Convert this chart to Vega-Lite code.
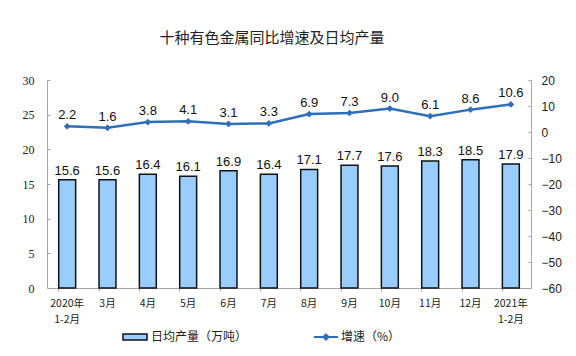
{
  "$schema": "https://vega.github.io/schema/vega-lite/v6.json",
  "autosize": "none",
  "width": 484,
  "height": 208,
  "padding": {"left": 47, "top": 80, "right": 45, "bottom": 68},
  "background": "white",
  "title": {
    "text": "十种有色金属同比增速及日均产量",
    "font": "Noto Sans CJK SC",
    "fontSize": 15,
    "fontWeight": "normal",
    "color": "#222",
    "anchor": "middle",
    "dx": -17,
    "offset": 28
  },
  "config": {
    "view": {"stroke": null},
    "legend": {"padding": 0}
  },
  "data": {
    "values": [
      {"month": "2020年|1-2月", "output": 15.6, "growth": 2.2},
      {"month": "3月", "output": 15.6, "growth": 1.6},
      {"month": "4月", "output": 16.4, "growth": 3.8},
      {"month": "5月", "output": 16.1, "growth": 4.1},
      {"month": "6月", "output": 16.9, "growth": 3.1},
      {"month": "7月", "output": 16.4, "growth": 3.3},
      {"month": "8月", "output": 17.1, "growth": 6.9},
      {"month": "9月", "output": 17.7, "growth": 7.3},
      {"month": "10月", "output": 17.6, "growth": 9.0},
      {"month": "11月", "output": 18.3, "growth": 6.1},
      {"month": "12月", "output": 18.5, "growth": 8.6},
      {"month": "2021年|1-2月", "output": 17.9, "growth": 10.6}
    ]
  },
  "encoding": {
    "x": {
      "field": "month",
      "type": "nominal",
      "sort": null,
      "scale": {"paddingInner": 0.58, "paddingOuter": 0.29},
      "axis": {
        "title": null,
        "labelAngle": 0,
        "labelExpr": "split(datum.label, '|')",
        "labelFont": "Noto Sans CJK SC",
        "labelFontSize": 10.5,
        "labelColor": "#222",
        "labelLineHeight": 16,
        "labelPadding": 7,
        "labelOverlap": false,
        "domainColor": "#A6A6A6",
        "tickColor": "#A6A6A6",
        "tickSize": 3,
        "bandPosition": 0
      }
    }
  },
  "layer": [
    {
      "encoding": {
        "y": {
          "field": "output",
          "type": "quantitative",
          "scale": {"domain": [0, 30]},
          "axis": {
            "title": null,
            "orient": "left",
            "values": [0, 5, 10, 15, 20, 25, 30],
            "grid": false,
            "labelOverlap": false,
            "labelFlush": false,
            "labelFont": "Liberation Serif",
            "labelFontSize": 12,
            "labelColor": "#222",
            "labelPadding": 16,
            "domainColor": "#A6A6A6",
            "tickColor": "#A6A6A6",
            "tickSize": -3
          }
        }
      },
      "layer": [
        {
          "mark": {"type": "bar", "stroke": "#111", "strokeWidth": 1.5},
          "encoding": {
            "fill": {
              "datum": "日均产量（万吨）",
              "type": "nominal",
              "scale": {"range": ["#99CCFF"]},
              "legend": {
                "title": null,
                "orient": "none",
                "legendX": 75,
                "legendY": 244,
                "symbolType": "M-1,-0.25L1,-0.25L1,0.25L-1,0.25Z",
                "symbolSize": 576,
                "symbolStrokeColor": "#111",
                "symbolStrokeWidth": 1.5,
                "symbolFillColor": "#99CCFF",
                "labelFont": "Noto Sans CJK SC",
                "labelFontSize": 12,
                "labelColor": "#222",
                "labelOffset": 3
              }
            }
          }
        },
        {
          "mark": {"type": "text", "font": "Liberation Sans", "fontSize": 13, "color": "#111", "baseline": "alphabetic", "dy": -5},
          "encoding": {
            "text": {"field": "output", "type": "quantitative", "format": ".1f"}
          }
        }
      ]
    },
    {
      "encoding": {
        "y": {
          "field": "growth",
          "type": "quantitative",
          "scale": {"domain": [-60, 20]},
          "axis": {
            "title": null,
            "orient": "right",
            "values": [-60, -50, -40, -30, -20, -10, 0, 10, 20],
            "grid": false,
            "labelOverlap": false,
            "labelFlush": false,
            "labelFont": "Liberation Sans",
            "labelFontSize": 12,
            "labelColor": "#222",
            "labelPadding": 13,
            "domainColor": "#A6A6A6",
            "tickColor": "#A6A6A6",
            "tickSize": -3
          }
        }
      },
      "layer": [
        {
          "mark": {"type": "line", "strokeWidth": 2.5},
          "encoding": {
            "stroke": {
              "datum": "增速（%）",
              "type": "nominal",
              "scale": {"range": ["#2F6EBA"]},
              "legend": {
                "title": null,
                "orient": "none",
                "legendX": 266,
                "legendY": 244,
                "symbolType": "M-1,0L1,0M0,-0.22L0.22,0L0,0.22L-0.22,0Z",
                "symbolSize": 576,
                "symbolStrokeWidth": 2,
                "symbolFillColor": "#2F6EBA",
                "labelFont": "Noto Sans CJK SC",
                "labelFontSize": 12,
                "labelColor": "#222",
                "labelOffset": 2
              }
            }
          }
        },
        {
          "mark": {"type": "point", "shape": "diamond", "filled": true, "size": 45, "color": "#2F6EBA", "opacity": 1}
        },
        {
          "mark": {"type": "text", "font": "Liberation Sans", "fontSize": 13, "color": "#111", "baseline": "alphabetic", "dy": -7},
          "encoding": {
            "text": {"field": "growth", "type": "quantitative", "format": ".1f"}
          }
        }
      ]
    }
  ],
  "resolve": {"scale": {"y": "independent", "fill": "independent", "stroke": "independent"}}
}
